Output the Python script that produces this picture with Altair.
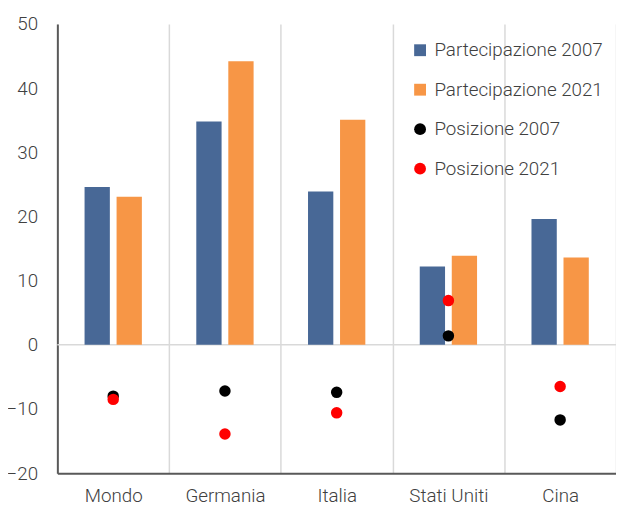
import altair as alt
import pandas as pd

paesi = ["Mondo", "Germania", "Italia", "Stati Uniti", "Cina"]
part_2007 = [24.6, 34.8, 23.9, 12.2, 19.6]
part_2021 = [23.1, 44.2, 35.1, 13.9, 13.6]
pos_2007 = [-8.0, -7.2, -7.4, 1.4, -11.7]
pos_2021 = [-8.5, -13.9, -10.6, 6.9, -6.5]
serie = ["Partecipazione 2007", "Partecipazione 2021", "Posizione 2007", "Posizione 2021"]
colori = ["#486896", "#F79646", "#000000", "#FF0000"]
forme = ["square", "square", "circle", "circle"]
y_ticks = [-20, -10, 0, 10, 20, 30, 40, 50]

bars = pd.DataFrame(
    [{"paese": p, "serie": serie[0], "valore": v} for p, v in zip(paesi, part_2007)]
    + [{"paese": p, "serie": serie[1], "valore": v} for p, v in zip(paesi, part_2021)]
)
points = pd.DataFrame(
    [{"paese": p, "serie": serie[2], "valore": v} for p, v in zip(paesi, pos_2007)]
    + [{"paese": p, "serie": serie[3], "valore": v} for p, v in zip(paesi, pos_2021)]
)
zero = pd.DataFrame({"y": [0]})

FONT = "Roboto"
TXT = "#404040"
FS = 19
FW = 300

x_enc = alt.X(
    "paese:N",
    sort=paesi,
    title=None,
    scale=alt.Scale(domain=paesi, paddingInner=0, paddingOuter=0),
    axis=alt.Axis(
        labelAngle=0, labelFontSize=FS, labelFont=FONT, labelColor=TXT, labelFontWeight=FW,
        ticks=False, labelPadding=14, grid=True, tickBand="extent",
        gridColor="#d9d9d9", gridWidth=1.5,
        domainColor="#595959", domainWidth=2,
    ),
)
y_enc = alt.Y(
    "valore:Q",
    title=None,
    scale=alt.Scale(domain=[-20, 50], nice=False, zero=False),
    axis=alt.Axis(
        values=y_ticks, grid=False, ticks=False, labelFontSize=FS, labelFont=FONT,
        labelColor=TXT, labelFontWeight=FW, labelPadding=20,
        domainColor="#595959", domainWidth=2,
    ),
)
legend = alt.Legend(
    orient="none", legendX=358, legendY=17, title=None, labelFontSize=FS,
    labelFont=FONT, labelColor=TXT, labelFontWeight=FW, labelLimit=400,
    symbolSize=144, rowPadding=20, padding=0, labelOffset=5, symbolStrokeWidth=0,
)
color_enc = alt.Color("serie:N", scale=alt.Scale(domain=serie, range=colori), legend=legend)
shape_enc = alt.Shape("serie:N", scale=alt.Scale(domain=serie, range=forme), legend=legend)

zero_rule = alt.Chart(zero).mark_rule(color="#d9d9d9", strokeWidth=1.5).encode(
    y=alt.Y("y:Q", scale=alt.Scale(domain=[-20, 50], nice=False, zero=False))
)

bar_layer = alt.Chart(bars).mark_bar().encode(
    x=x_enc,
    y=y_enc,
    xOffset=alt.XOffset("serie:N", scale=alt.Scale(domain=serie[:2], paddingInner=0.21, paddingOuter=0.85)),
    color=color_enc,
)

point_layer = alt.Chart(points).mark_point(filled=True, size=135, opacity=1).encode(
    x=x_enc,
    y=y_enc,
    color=color_enc,
    shape=shape_enc,
)

chart = alt.layer(zero_rule, bar_layer, point_layer).properties(
    width=566,
    height=455,
    autosize=alt.AutoSizeParams(type="none"),
    padding={"left": 50, "top": 13, "right": 0, "bottom": 30},
).configure_view(stroke=None)

chart.save("out.html", embed_options={"renderer": "svg", "actions": False})
